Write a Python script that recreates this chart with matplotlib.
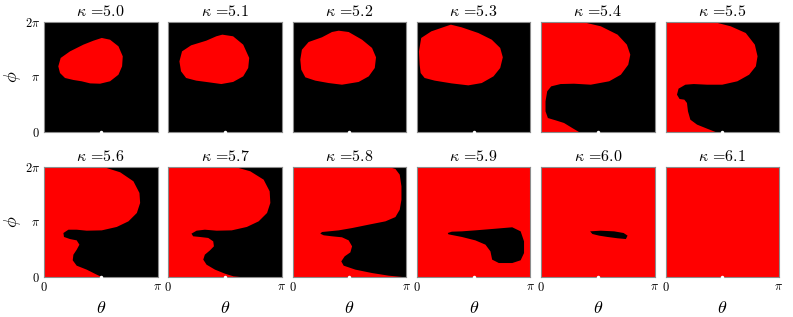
import numpy as np
import matplotlib
matplotlib.use("Agg")
import matplotlib.pyplot as plt

plt.rcParams['font.family'] = 'serif'
plt.rcParams['font.serif'] = ['cmr10', 'DejaVu Serif']
plt.rcParams['mathtext.fontset'] = 'cm'
plt.rcParams['axes.unicode_minus'] = False

# kappa values, one per panel
kappas = [5.0, 5.1, 5.2, 5.3, 5.4, 5.5, 5.6, 5.7, 5.8, 5.9, 6.0, 6.1]
# background colour of each panel and the colour of the traced region
backgrounds = ['k', 'k', 'k', 'k', 'k', 'k', 'k', 'k', 'k', 'r', 'r', 'r']

# traced region boundaries, theta in units of pi, phi in units of 2*pi
k50_theta = [0.126, 0.147, 0.229, 0.347, 0.435, 0.509, 0.582, 0.656, 0.694, 0.688,
             0.656, 0.582, 0.494, 0.406, 0.332, 0.259, 0.185, 0.141]
k50_phi = [0.597, 0.673, 0.733, 0.794, 0.830, 0.855, 0.839, 0.779, 0.688, 0.597,
           0.521, 0.461, 0.439, 0.442, 0.461, 0.473, 0.491, 0.536]

k51_theta = [0.098, 0.121, 0.201, 0.334, 0.423, 0.476, 0.571, 0.660, 0.713, 0.704,
             0.660, 0.571, 0.467, 0.334, 0.246, 0.157, 0.112]
k51_phi = [0.642, 0.733, 0.788, 0.830, 0.870, 0.885, 0.870, 0.794, 0.673, 0.582,
           0.506, 0.455, 0.436, 0.455, 0.467, 0.491, 0.552]

k52_theta = [0.068, 0.082, 0.141, 0.259, 0.347, 0.406, 0.494, 0.612, 0.700, 0.735,
             0.724, 0.671, 0.582, 0.435, 0.318, 0.200, 0.112, 0.076]
k52_phi = [0.658, 0.748, 0.818, 0.861, 0.909, 0.921, 0.909, 0.839, 0.764, 0.679,
           0.582, 0.506, 0.455, 0.430, 0.445, 0.467, 0.497, 0.567]

k53_theta = [0.024, 0.018, 0.038, 0.127, 0.231, 0.299, 0.393, 0.541, 0.660, 0.734,
             0.757, 0.734, 0.675, 0.571, 0.453, 0.305, 0.157, 0.068, 0.033]
k53_phi = [0.612, 0.733, 0.855, 0.915, 0.952, 0.976, 0.952, 0.900, 0.839, 0.764,
           0.679, 0.582, 0.506, 0.445, 0.424, 0.442, 0.467, 0.491, 0.536]

k54_theta = [0, 0.363, 0.525, 0.673, 0.755, 0.785, 0.767, 0.702, 0.599, 0.437, 0.289,
             0.171, 0.088, 0.053, 0.038, 0.038, 0.059, 0.127, 0.201, 0.274, 0.333, 0]
k54_phi = [1, 1, 0.961, 0.885, 0.794, 0.703, 0.612, 0.521, 0.461, 0.430, 0.439,
           0.436, 0.415, 0.370, 0.279, 0.188, 0.127, 0.106, 0.082, 0.036, 0, 0]

k55_theta = [0, 0.426, 0.574, 0.707, 0.787, 0.811, 0.796, 0.737, 0.633, 0.500, 0.367,
             0.249, 0.175, 0.115, 0.101, 0.124, 0.166, 0.189, 0.198, 0.219, 0.278,
             0.367, 0.441, 0]
k55_phi = [1, 1, 0.961, 0.900, 0.794, 0.688, 0.597, 0.521, 0.461, 0.430, 0.430,
           0.436, 0.430, 0.394, 0.339, 0.300, 0.294, 0.264, 0.188, 0.112, 0.067,
           0.030, 0, 0]

k56_theta = [0, 0.524, 0.671, 0.788, 0.841, 0.847, 0.818, 0.744, 0.641, 0.509, 0.376,
             0.288, 0.215, 0.171, 0.176, 0.229, 0.288, 0.312, 0.288, 0.259, 0.253,
             0.288, 0.376, 0.465, 0.509, 0]
k56_phi = [1, 1, 0.952, 0.870, 0.764, 0.673, 0.582, 0.506, 0.455, 0.424, 0.421,
           0.430, 0.430, 0.400, 0.364, 0.345, 0.333, 0.294, 0.248, 0.203, 0.152,
           0.103, 0.067, 0.021, 0, 0]

k57_theta = [0, 0.589, 0.722, 0.840, 0.893, 0.899, 0.870, 0.796, 0.692, 0.559, 0.426,
             0.322, 0.249, 0.204, 0.219, 0.278, 0.352, 0.396, 0.402, 0.367, 0.322,
             0.308, 0.337, 0.411, 0.500, 0.574, 0.633, 0]
k57_phi = [1, 1, 0.961, 0.885, 0.779, 0.673, 0.582, 0.506, 0.455, 0.424, 0.421,
           0.430, 0.421, 0.394, 0.370, 0.364, 0.355, 0.324, 0.279, 0.242, 0.203,
           0.158, 0.112, 0.067, 0.030, 0.006, 0, 0]

k58_theta = [0, 0.847, 0.906, 0.944, 0.959, 0.959, 0.944, 0.906, 0.818, 0.671, 0.524,
             0.406, 0.318, 0.259, 0.244, 0.274, 0.347, 0.435, 0.494, 0.524, 0.509,
             0.459, 0.429, 0.450, 0.553, 0.700, 0.847, 0.965, 0]
k58_phi = [1, 1, 0.982, 0.930, 0.824, 0.703, 0.612, 0.545, 0.506, 0.476, 0.445,
           0.424, 0.415, 0.409, 0.394, 0.379, 0.370, 0.361, 0.333, 0.279, 0.224,
           0.188, 0.142, 0.103, 0.067, 0.036, 0.012, 0, 0]

k59_theta = [0.272, 0.308, 0.396, 0.515, 0.692, 0.840, 0.914, 0.944, 0.944, 0.914,
             0.840, 0.722, 0.663, 0.648, 0.604, 0.515, 0.396, 0.322, 0.278]
k59_phi = [0.400, 0.412, 0.415, 0.424, 0.439, 0.452, 0.415, 0.324, 0.218, 0.152,
           0.127, 0.127, 0.158, 0.233, 0.294, 0.333, 0.364, 0.379, 0.388]

k60_theta = [0.431, 0.525, 0.643, 0.726, 0.761, 0.746, 0.673, 0.584, 0.510, 0.451]
k60_phi = [0.415, 0.421, 0.415, 0.400, 0.376, 0.345, 0.352, 0.364, 0.376, 0.391]

regions = [(k50_theta, k50_phi), (k51_theta, k51_phi), (k52_theta, k52_phi),
           (k53_theta, k53_phi), (k54_theta, k54_phi), (k55_theta, k55_phi),
           (k56_theta, k56_phi), (k57_theta, k57_phi), (k58_theta, k58_phi),
           (k59_theta, k59_phi), (k60_theta, k60_phi), None]

W, H = 793, 317
fig = plt.figure(figsize=(W / 100, H / 100), dpi=100)

lefts = [44 + 124.3 * i for i in range(6)]
tops = [22, 167]
pw, ph = 113.5, 110

for i, kap in enumerate(kappas):
    row, col = divmod(i, 6)
    ax = fig.add_axes([lefts[col] / W, 1 - (tops[row] + ph) / H, pw / W, ph / H])
    bg = backgrounds[i]
    fg = 'r' if bg == 'k' else 'k'
    ax.set_facecolor(bg)
    if regions[i] is not None:
        th, ph_ = regions[i]
        ax.fill(np.array(th) * np.pi, np.array(ph_) * 2 * np.pi, color=fg, lw=0)
    ax.plot([np.pi / 2], [0], 'o', color='w', ms=2.5, mec='none', clip_on=False, zorder=5)
    ax.set_xlim(0, np.pi)
    ax.set_ylim(0, 2 * np.pi)
    for s in ax.spines.values():
        s.set_color('#8c8c8c')
        s.set_linewidth(0.8)
    ax.tick_params(length=0, labelsize=9, pad=3)
    ax.set_title(r'$\kappa$ =%.1f' % kap, fontsize=11.5, pad=4)
    if col == 0:
        ax.set_yticks([0, np.pi, 2 * np.pi])
        ax.set_yticklabels(['$0$', r'$\pi$', r'$2\pi$'])
        ax.set_ylabel(r'$\phi$', fontsize=13, labelpad=1)
    else:
        ax.set_yticks([])
    if row == 1:
        ax.set_xticks([0, np.pi])
        ax.set_xticklabels(['$0$', r'$\pi$'])
        ax.set_xlabel(r'$\theta$', fontsize=13, labelpad=4)
    else:
        ax.set_xticks([])

fig.savefig('out.png', dpi=100)
